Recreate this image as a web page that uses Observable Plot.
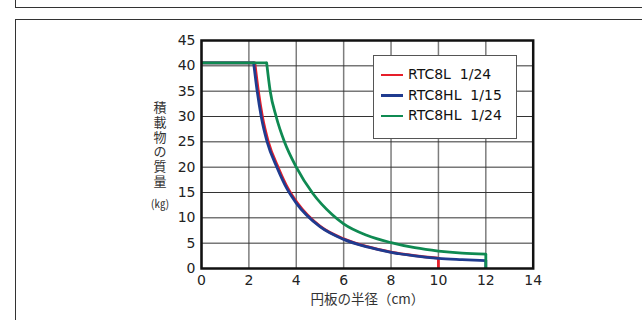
<!DOCTYPE html>
<html><head><meta charset="utf-8">
<script src="https://cdn.jsdelivr.net/npm/d3@7"></script>
<script src="https://cdn.jsdelivr.net/npm/@observablehq/plot@0.6"></script>
<style>
html,body{margin:0;padding:0;background:#fff;width:642px;height:320px;overflow:hidden;position:relative;}
#box1{position:absolute;left:15px;top:-10px;width:700px;height:16px;border:1.5px solid #333;}
#box2{position:absolute;left:15px;top:19px;width:700px;height:400px;border:1.5px solid #333;}
#chart{position:absolute;left:0;top:0;}
#legend{position:absolute;left:373px;top:55px;width:142px;height:74px;border:1px solid #555;background:#fff;
  font-family:"DejaVu Sans",sans-serif;font-size:14px;color:#111;padding-top:8px;box-sizing:content-box;}
#legend .row{height:20.5px;line-height:20.5px;white-space:pre;}
#legend .sw{display:inline-block;width:22px;height:2.2px;margin-left:7px;margin-right:5px;vertical-align:middle;}
</style></head>
<body>
<div id="box1"></div>
<div id="box2"></div>
<div id="chart"></div>
<div id="legend"></div>
<script>
const xTicks = [0, 2, 4, 6, 8, 10, 12, 14];
const yTicks = [0, 5, 10, 15, 20, 25, 30, 35, 40, 45];
const seriesNames = ["RTC8L  1/24", "RTC8HL  1/15", "RTC8HL  1/24"];
const seriesColors = ["#e61e2a", "#1f3b8f", "#0f8a52"];
const xLabel = "円板の半径（cm）";
const yLabel = "積載物の質量";
const yUnit = "(㎏)";

// RTC8L 1/24
const rtc8l24R = [0, 2.25, 2.4, 2.57, 2.82, 3.25, 3.65, 4.05, 5, 6, 7, 8, 9, 10, 10];
const rtc8l24M = [40.6, 40.6, 35, 30, 25, 19.8, 15.8, 12.9, 8.35, 5.85, 4.3, 3.25, 2.55, 2.05, 0];
// RTC8HL 1/15
const rtc8hl15R = [0, 2.2, 2.35, 2.52, 2.77, 3.2, 3.6, 4, 5, 6, 7, 8, 9, 10, 11, 12, 12];
const rtc8hl15M = [40.6, 40.6, 35, 30, 25, 19.8, 15.8, 12.9, 8.25, 5.75, 4.25, 3.2, 2.5, 2.0, 1.75, 1.55, 0];
// RTC8HL 1/24
const rtc8hl24R = [0, 2.75, 2.9, 3.15, 3.5, 4, 4.7, 5.5, 6, 7, 8, 9, 10, 11, 12, 12];
const rtc8hl24M = [40.6, 40.6, 35, 30, 25, 20, 14.8, 10.7, 8.8, 6.5, 5.1, 4.1, 3.45, 3.05, 2.85, 0];

const seriesR = [rtc8l24R, rtc8hl15R, rtc8hl24R];
const seriesM = [rtc8l24M, rtc8hl15M, rtc8hl24M];

// each series: flat plateau (linear), decaying curve (smooth), final drop to zero (linear)
const lineMarks = seriesR.flatMap((rs, i) => {
  const pts = rs.map((r, j) => ({r, m: seriesM[i][j]}));
  const n = pts.length;
  const opts = {x: "r", y: "m", stroke: seriesColors[i], strokeWidth: 2.8, strokeLinecap: "butt"};
  return [
    Plot.line(pts.slice(0, 2), opts),
    Plot.line(pts.slice(1, n - 1), {...opts, curve: "monotone-x", strokeLinecap: "round"}),
    Plot.line(pts.slice(n - 2), opts)
  ];
});

const cjk = '"Noto Sans CJK JP", sans-serif';
const chart = Plot.plot({
  width: 642, height: 320,
  marginLeft: 201, marginRight: 109.3, marginTop: 40, marginBottom: 52,
  style: {background: "transparent", fontFamily: '"DejaVu Sans", sans-serif', fontSize: "14px", color: "#222", overflow: "visible"},
  x: {domain: [0, 14]},
  y: {domain: [0, 45]},
  marks: [
    Plot.gridX(xTicks, {stroke: "#7d7d7d", strokeWidth: 1.5, strokeOpacity: 1}),
    Plot.gridY(yTicks, {stroke: "#333", strokeWidth: 1, strokeOpacity: 1}),
    ...lineMarks,
    Plot.frame({stroke: "#111", strokeWidth: 2.5}),
    Plot.axisX(xTicks, {tickSize: 0, tickPadding: 7, fontSize: 14, fill: "#222", label: null}),
    Plot.axisY(yTicks, {tickSize: 0, tickPadding: 6, fontSize: 14, fill: "#222", label: null}),
    Plot.text([yLabel.split("").join("\n")], {text: d => d, frameAnchor: "left", textAnchor: "middle",
      dx: -41.5, dy: -10.3, lineHeight: 1.13, fontSize: 13, fontFamily: cjk, fill: "#333"}),
    Plot.text([yUnit], {text: d => d, frameAnchor: "left", textAnchor: "middle",
      dx: -41.5, dy: 50, fontSize: 11, fontFamily: cjk, fill: "#333"}),
    Plot.text([xLabel], {text: d => d, frameAnchor: "bottom", textAnchor: "middle",
      dy: 35, fontSize: 13.5, fontFamily: cjk, fill: "#333"})
  ]
});
document.getElementById("chart").appendChild(chart);

const legend = d3.select("#legend");
seriesNames.forEach((name, i) => {
  const row = legend.append("div").attr("class", "row");
  row.append("span").attr("class", "sw").style("background", seriesColors[i]);
  row.append("span").text(name);
});
</script>
</body></html>
